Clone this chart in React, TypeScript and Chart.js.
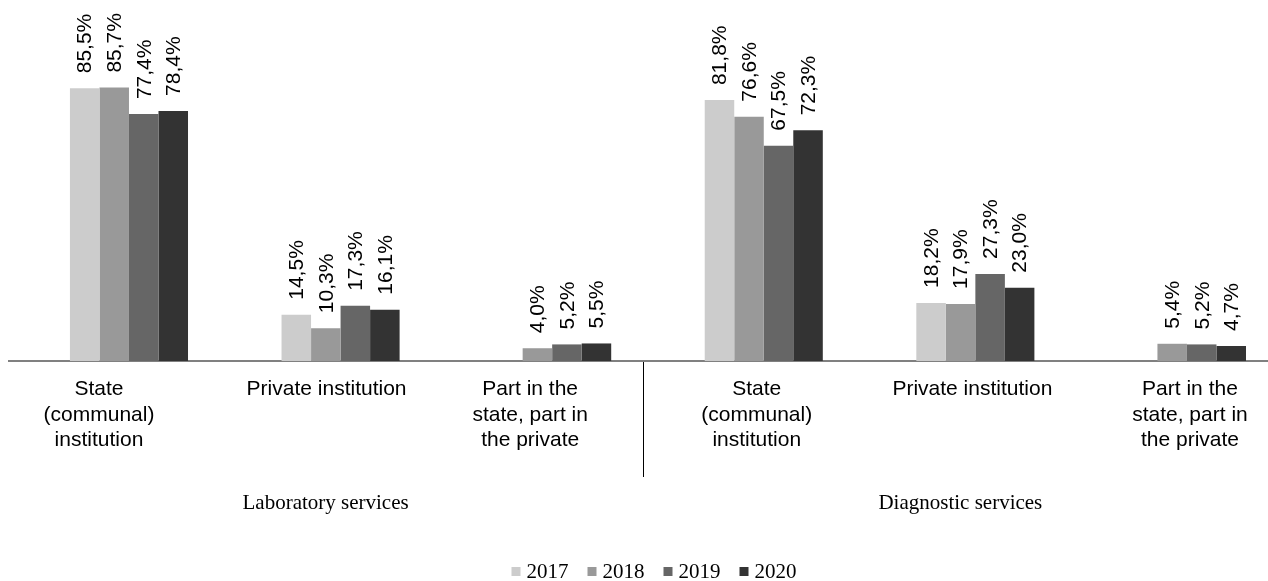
import React, { useEffect, useRef } from 'react';
import { Chart, registerables } from 'chart.js';

Chart.register(...registerables);

// ---- data ----
const categories: string[][] = [
  ['State', '(communal)', 'institution'],
  ['Private institution'],
  ['Part in the', 'state, part in', 'the private'],
  ['State', '(communal)', 'institution'],
  ['Private institution'],
  ['Part in the', 'state, part in', 'the private'],
];
const groupLabels = ['Laboratory services', 'Diagnostic services'];
const years = ['2017', '2018', '2019', '2020'];
const values2017 = [85.5, 14.5, null, 81.8, 18.2, null];
const values2018 = [85.7, 10.3, 4.0, 76.6, 17.9, 5.4];
const values2019 = [77.4, 17.3, 5.2, 67.5, 27.3, 5.2];
const values2020 = [78.4, 16.1, 5.5, 72.3, 23.0, 4.7];
const seriesValues = [values2017, values2018, values2019, values2020];
const colors = ['#cccccc', '#999999', '#666666', '#333333'];

// ---- layout / style ----
const W = 1268;
const H = 581;
const X_MIN = -0.567;
const X_MAX = 5.383;
const GROUP_SHIFT = -15;
const CATEGORY_LABEL_SHIFT = [-30, -14, -22, -7, -3, 3];
const SANS = "'Liberation Sans', Arial, sans-serif";
const SERIF = "'Liberation Serif', 'Times New Roman', serif";

const fmt = (v: number) => v.toFixed(1).replace('.', ',') + '%';

const overlayPlugin = {
  id: 'overlay',
  afterDatasetsDraw(chart: any) {
    const ctx = chart.ctx;
    ctx.save();
    // data labels
    ctx.font = `21px ${SANS}`;
    ctx.fillStyle = '#000';
    ctx.textAlign = 'left';
    ctx.textBaseline = 'middle';
    chart.data.datasets.forEach((ds: any, di: number) => {
      const meta = chart.getDatasetMeta(di);
      meta.data.forEach((el: any, i: number) => {
        const v = seriesValues[di][i];
        if (v === null || v === undefined) return;
        ctx.save();
        ctx.translate(el.x + 1, el.y - 15);
        ctx.rotate(-Math.PI / 2);
        ctx.fillText(fmt(v), 0, 0);
        ctx.restore();
      });
    });

    const xs = chart.scales.x;
    const bottom = chart.chartArea.bottom;

    // category labels
    ctx.font = `21px ${SANS}`;
    ctx.fillStyle = '#000';
    ctx.textAlign = 'center';
    ctx.textBaseline = 'alphabetic';
    categories.forEach((lines, i) => {
      const cx = xs.getPixelForValue(i) + CATEGORY_LABEL_SHIFT[i];
      lines.forEach((line, k) => {
        ctx.fillText(line, cx, bottom + 34 + k * 25.5);
      });
    });

    // divider between groups
    const dx = Math.round(xs.getPixelForValue(2.5) + GROUP_SHIFT) + 0.5;
    ctx.strokeStyle = '#000';
    ctx.lineWidth = 1;
    ctx.beginPath();
    ctx.moveTo(dx, bottom + 1);
    ctx.lineTo(dx, 477);
    ctx.stroke();

    // group labels
    ctx.font = `21px ${SERIF}`;
    ctx.textAlign = 'center';
    ctx.textBaseline = 'middle';
    groupLabels.forEach((g, gi) => {
      const cx = xs.getPixelForValue(1 + gi * 3) + GROUP_SHIFT;
      ctx.fillText(g, cx, 503);
    });

    // legend
    ctx.font = `21px ${SERIF}`;
    const box = 9;
    const gapBoxText = 6;
    const gapItems = 19;
    const widths = years.map((y) => ctx.measureText(y).width);
    const total = widths.reduce((a, b) => a + b, 0) + years.length * (box + gapBoxText) + (years.length - 1) * gapItems;
    let x = W / 2 + 20 - total / 2;
    const ly = 571.5;
    ctx.textAlign = 'left';
    years.forEach((y, i) => {
      ctx.fillStyle = colors[i];
      ctx.fillRect(x, ly - box / 2, box, box);
      x += box + gapBoxText;
      ctx.fillStyle = '#000';
      ctx.fillText(y, x, ly + 1);
      x += widths[i] + gapItems;
    });
    ctx.restore();
  },
};

export default function App() {
  const ref = useRef<HTMLCanvasElement | null>(null);
  useEffect(() => {
    if (!ref.current) return;
    const chart = new Chart(ref.current, {
      type: 'bar',
      data: {
        datasets: years.map((y, di) => ({
          label: y,
          data: seriesValues[di].map((v, i) => ({ x: i, y: v })),
          backgroundColor: colors[di],
          borderWidth: 0,
          barPercentage: 1,
          categoryPercentage: 0.558,
        })),
      },
      options: {
        responsive: false,
        animation: false,
        layout: { padding: { left: 9, right: 0, top: 42, bottom: 0 } },
        plugins: {
          legend: { display: false },
          tooltip: { enabled: false },
        },
        scales: {
          x: {
            type: 'linear',
            min: X_MIN,
            max: X_MAX,
            offset: false,
            grid: { display: false, drawTicks: false },
            border: { display: true, color: '#808080', width: 2 },
            afterBuildTicks: (s: any) => {
              s.ticks = categories.map((_, i) => ({ value: i }));
            },
            afterFit: (s: any) => {
              s.height = H - 361;
            },
            ticks: {
              display: false,
              autoSkip: false,
              maxRotation: 0,
              minRotation: 0,
            },
          },
          y: {
            display: false,
            min: 0,
            max: 100,
          },
        },
      },
      plugins: [overlayPlugin],
    } as any);
    return () => chart.destroy();
  }, []);
  return (
    <div style={{ position: 'absolute', left: 0, top: 0, width: W, height: H, background: '#fff' }}>
      <canvas ref={ref} width={W} height={H} style={{ display: 'block', width: W, height: H }} />
    </div>
  );
}
